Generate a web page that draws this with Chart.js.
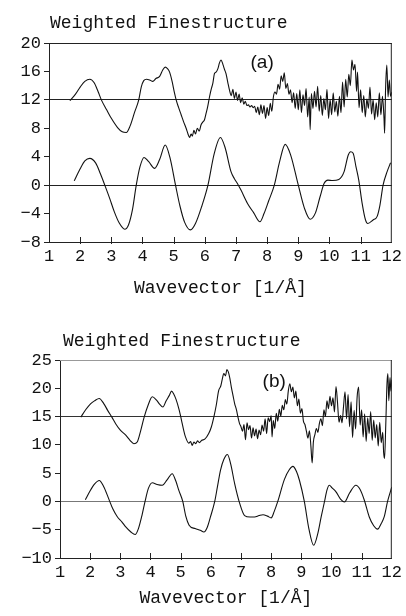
<!DOCTYPE html>
<html>
<head>
<meta charset="utf-8">
<script src="https://cdn.jsdelivr.net/npm/chart.js@4.4.1/dist/chart.umd.min.js"></script>
<style>
  body { margin: 0; background: #fff; }
  .panel { position: relative; width: 406px; height: 308px; }
  canvas { display: block; }
</style>
</head>
<body>
<div class="panel"><canvas id="chart-a" width="406" height="308"></canvas></div>
<div class="panel"><canvas id="chart-b" width="406" height="308"></canvas></div>
<script>
// ---- panel (a) ----
const aUpperK = [1.67,1.85,2.0,2.15,2.31,2.45,2.58,2.68,2.85,3.0,3.2,3.35,3.48,3.6,3.75,3.88,3.96,4.04,4.13,4.23,4.33,4.43,4.55,4.65,4.73,4.8,4.87,4.95,5.03,5.08,5.16,5.24,5.32,5.40,5.46,5.51,5.56,5.6,5.65,5.7,5.76,5.82,5.88,5.94,5.99,6.04,6.09,6.15,6.2,6.26,6.31,6.36,6.42,6.47,6.52,6.58,6.63,6.68,6.74,6.79,
  6.85,6.90,6.95,7.00,7.05,7.10,7.15,7.20,7.25,7.30,7.35,7.40,7.45,7.50,7.55,7.60,7.65,7.70,7.75,7.80,7.85,7.90,7.95,8.00,8.05,8.10,8.15,8.20,8.25,8.30,8.35,8.40,8.45,8.50,8.55,8.60,8.65,8.70,8.75,8.80,8.85,8.90,8.95,9.00,9.05,9.10,9.15,9.20,9.25,9.30,9.35,9.38,9.42,9.47,9.52,9.57,9.62,9.67,9.72,9.77,9.82,9.87,9.92,9.97,10.02,10.07,10.12,10.17,10.22,10.27,10.32,10.37,10.42,10.47,10.52,10.57,10.62,10.67,10.72,10.77,10.82,10.87,10.90,10.95,11.00,11.05,11.10,11.15,11.20,11.25,11.30,11.35,11.40,11.45,11.50,11.55,11.60,11.65,11.70,11.75,11.77,11.80,11.84,11.88,11.92,11.96,12.00];
const aUpperV = [11.9,12.8,13.8,14.6,14.9,14.4,13.1,12.0,10.6,9.4,8.1,7.5,7.4,8.3,10.3,12.0,13.8,14.7,14.9,14.8,14.6,15.0,15.3,16.2,16.6,16.4,15.9,14.6,12.9,12.0,10.9,9.9,8.9,8.0,7.2,6.7,7.2,6.9,7.7,7.2,8.0,7.6,8.5,8.9,9.2,10.1,11.0,12.4,13.4,14.4,15.7,15.9,16.4,17.2,17.6,17.0,16.3,15.7,14.4,13.4,
  12.6,13.5,12.2,13.1,11.9,12.8,11.6,12.3,11.4,11.8,11.2,11.3,11.0,11.2,10.9,11.1,10.2,11.0,9.9,11.3,10.1,11.2,9.4,10.9,9.8,11.5,10.4,12.4,13.1,12.8,14.2,13.5,15.4,14.6,15.8,13.6,14.3,12.8,13.4,11.6,13.0,10.8,12.9,10.6,13.4,10.2,12.7,11.2,13.6,9.6,12.4,7.8,12.9,10.8,13.2,11.0,13.9,10.4,12.6,9.8,12.2,10.6,13.5,9.4,12.0,9.9,13.0,10.3,11.8,9.7,12.5,10.2,14.5,11.0,14.9,12.4,15.6,14.0,17.6,16.2,17.0,13.2,15.9,10.9,13.4,10.2,12.6,9.6,12.1,10.8,13.8,10.0,12.0,9.2,11.6,9.6,13.0,9.9,12.5,9.4,7.3,13.5,16.9,12.4,14.8,12.5,13.1];

const aLowerK = [1.81,2.0,2.15,2.31,2.5,2.65,2.79,2.95,3.1,3.25,3.43,3.55,3.68,3.80,3.92,4.05,4.2,4.39,4.55,4.73,4.88,5.06,5.2,5.35,5.54,5.7,5.9,6.1,6.3,6.5,6.65,6.84,6.95,7.05,7.16,7.37,7.57,7.77,7.9,8.05,8.23,8.4,8.58,8.75,9.0,9.2,9.38,9.55,9.7,9.83,9.95,10.1,10.3,10.47,10.6,10.68,10.76,10.85,10.94,11.05,11.15,11.23,11.4,11.53,11.62,11.72,11.85,11.96];
const aLowerV = [0.6,2.3,3.4,3.77,3.1,1.6,0.0,-1.9,-3.8,-5.3,-6.2,-5.6,-3.4,0.0,2.6,3.9,3.3,2.36,3.6,5.64,3.9,0.0,-2.9,-5.2,-6.3,-5.4,-3.0,0.0,4.4,6.7,5.3,1.9,0.9,0.2,-0.7,-2.57,-3.9,-5.15,-4.0,-2.2,0.0,3.3,5.74,4.3,0.0,-3.3,-4.8,-3.9,-1.6,0.25,0.7,0.65,0.8,1.9,4.2,4.7,4.5,2.6,0.7,-2.6,-4.8,-5.4,-4.9,-4.4,-2.8,0.0,1.9,3.15];

const aBaselines = [12, 0];

// ---- panel (b) ----
const bUpperK = [1.69,1.85,2.02,2.15,2.30,2.45,2.58,2.72,2.85,3.0,3.18,3.32,3.45,3.56,3.68,3.79,3.92,4.06,4.2,4.3,4.41,4.52,4.62,4.70,4.77,4.85,4.95,5.03,5.1,5.16,5.27,5.33,5.38,5.44,5.5,5.56,5.62,5.7,5.8,5.93,6.02,6.10,6.18,6.26,6.33,6.38,6.43,6.49,6.53,6.58,6.63,6.68,6.74,6.79,6.85,6.90,
  6.95,7.00,7.05,7.10,7.15,7.20,7.25,7.30,7.35,7.40,7.45,7.50,7.55,7.60,7.65,7.70,7.75,7.80,7.85,7.90,7.95,8.00,8.03,8.07,8.12,8.17,8.22,8.27,8.32,8.37,8.42,8.47,8.52,8.57,8.62,8.67,8.72,8.77,8.82,8.87,8.92,8.97,9.02,9.07,9.12,9.17,9.22,9.27,9.32,9.36,9.40,9.45,9.50,9.55,9.60,9.65,9.70,9.75,9.80,9.85,9.90,9.95,10.00,10.05,10.10,10.15,10.20,10.25,10.30,10.35,10.40,10.45,10.50,10.55,10.60,10.65,10.70,10.75,10.80,10.85,10.90,10.95,11.00,11.05,11.10,11.15,11.20,11.25,11.30,11.35,11.40,11.45,11.50,11.55,11.60,11.65,11.70,11.73,11.76,11.80,11.84,11.87,11.90,11.94,11.97,12.00];
const bUpperV = [14.9,16.2,17.3,17.8,18.2,17.3,16.1,14.9,13.7,12.6,11.7,10.8,10.2,10.5,12.6,14.9,17.0,18.5,17.9,17.2,16.7,17.8,18.7,19.5,19.0,18.0,16.2,14.3,12.6,11.4,10.3,10.6,9.9,10.5,10.2,10.7,10.4,10.8,11.0,12.0,13.2,14.9,17.0,19.6,20.4,21.6,22.6,22.2,23.3,22.9,21.8,20.2,18.6,17.3,16.2,14.9,
  13.8,13.2,12.4,13.6,10.9,13.9,12.7,13.4,11.2,13.0,11.6,12.8,11.1,12.6,11.8,13.5,12.4,14.6,12.0,14.8,14.1,15.2,11.4,14.3,12.9,15.6,14.2,16.3,15.1,17.0,16.2,18.0,17.2,19.6,20.8,19.4,20.2,18.3,19.5,16.9,18.1,15.6,16.4,14.2,13.6,12.4,11.2,12.5,9.6,6.8,10.5,11.8,12.9,12.2,13.8,14.6,13.4,16.2,15.0,17.8,16.4,18.6,16.9,18.3,15.8,20.3,17.5,14.0,15.2,13.9,16.8,19.4,14.6,18.9,13.2,17.6,11.3,16.1,12.8,18.4,20.2,13.5,16.2,11.4,15.5,10.6,14.8,12.0,15.9,10.8,14.4,11.2,13.6,9.8,14.0,10.4,12.2,8.6,7.6,13.5,20.8,22.6,17.8,21.9,19.5,21.5];

const bLowerK = [1.84,2.0,2.15,2.30,2.45,2.62,2.75,2.9,3.05,3.18,3.35,3.49,3.6,3.72,3.82,3.93,4.06,4.22,4.39,4.55,4.72,4.84,4.94,5.07,5.17,5.28,5.48,5.65,5.77,5.88,5.99,6.13,6.22,6.32,6.43,6.55,6.66,6.79,6.96,7.12,7.3,7.45,7.6,7.73,7.88,8.0,8.1,8.22,8.44,8.6,8.72,8.84,8.94,9.1,9.25,9.41,9.55,9.66,9.77,9.85,9.93,10.02,10.15,10.3,10.43,10.6,10.81,10.95,11.09,11.25,11.4,11.53,11.65,11.75,11.86,12.0];
const bLowerV = [0.3,1.9,3.1,3.7,2.6,0.4,-1.3,-2.7,-3.6,-4.5,-5.4,-5.85,-4.8,-2.4,0.0,2.3,3.3,3.0,2.85,3.8,4.9,3.6,1.95,0.0,-2.6,-4.2,-4.8,-5.1,-5.4,-4.6,-2.7,0.0,2.6,5.5,7.4,8.3,6.6,3.15,-0.4,-2.5,-2.75,-2.75,-2.5,-2.35,-2.6,-2.9,-1.8,0.0,3.9,5.6,6.2,5.3,3.7,0.0,-4.8,-7.75,-5.6,-2.7,0.0,2.0,2.85,2.4,1.7,0.4,-0.1,1.5,2.85,2.1,0.2,-2.7,-4.3,-4.9,-3.9,-2.7,0.0,2.55];

const bBaselines = [15, 0];

const xTicks = [1,2,3,4,5,6,7,8,9,10,11,12];
const titleText = "Weighted Finestructure";
const xTitle = "Wavevector [1/\u00C5]";

const monoFont = "'Liberation Mono', 'DejaVu Sans Mono', monospace";

function pts(k, v) {
    return k.map((x, i) => ({x: x, y: v[i]}));
}

// frame, inner ticks, heading and panel letter
const framePlugin = {
    id: 'frame',
    afterDraw(chart, args, o) {
        const ctx = chart.ctx;
        const a = chart.chartArea;
        const xs = chart.scales.x, ys = chart.scales.y;
        ctx.save();
        ctx.strokeStyle = o.topColor;
        ctx.lineWidth = 1;
        ctx.beginPath();
        ctx.moveTo(a.left, a.top + 0.5);
        ctx.lineTo(a.right, a.top + 0.5);
        ctx.stroke();
        ctx.strokeStyle = '#222';
        ctx.beginPath();
        ctx.moveTo(a.right - 0.5, a.top);
        ctx.lineTo(a.right - 0.5, a.bottom);
        ctx.stroke();
        // x ticks pointing inward
        ctx.beginPath();
        xTicks.forEach(t => {
            if (t === xs.min || t === xs.max) return;
            const px = Math.round(xs.getPixelForValue(t)) + 0.5;
            ctx.moveTo(px, a.bottom + 2);
            ctx.lineTo(px, a.bottom - 5);
        });
        ctx.stroke();
        // heading
        ctx.fillStyle = '#111';
        ctx.font = "18px " + monoFont;
        ctx.textAlign = 'left';
        ctx.textBaseline = 'alphabetic';
        ctx.fillText(titleText, a.left + o.titleDx, a.top - o.titleDy);
        // panel letter
        ctx.font = "19px 'Liberation Sans', Arial, sans-serif";
        ctx.textAlign = 'center';
        ctx.textBaseline = 'middle';
        ctx.fillText(o.letter, xs.getPixelForValue(o.letterAt[0]), ys.getPixelForValue(o.letterAt[1]));
        ctx.restore();
    }
};

function makeChart(id, upper, lower, yMin, yMax, yStep, baselines, lay) {
    const ctx = document.getElementById(id).getContext('2d');
    return new Chart(ctx, {
        type: 'line',
        data: {
            datasets: [
                { data: upper, borderColor: '#111', borderWidth: 1.1, pointRadius: 0, cubicInterpolationMode: 'monotone', fill: false },
                { data: lower, borderColor: '#111', borderWidth: 1.1, pointRadius: 0, cubicInterpolationMode: 'monotone', fill: false },
            ]
        },
        options: {
            responsive: false,
            animation: false,
            events: [],
            layout: { padding: { top: lay.top, right: 13, left: 0, bottom: 0 } },
            plugins: {
                legend: { display: false },
                tooltip: { enabled: false },
                frame: lay.frame,
            },
            scales: {
                x: {
                    type: 'linear',
                    min: 1, max: 12,
                    afterFit: s => { s.height = lay.xHeight; },
                    afterBuildTicks: s => { s.ticks = xTicks.map(v => ({value: v})); },
                    border: { display: true, color: '#222', width: 1 },
                    grid: { drawOnChartArea: false, drawTicks: false },
                    ticks: { color: '#111', padding: 4, maxRotation: 0, autoSkip: false, font: { family: monoFont, size: 17 } },
                    title: { display: true, text: xTitle, color: '#111', font: { family: monoFont, size: 18 }, padding: { top: 0, bottom: lay.titlePad } }
                },
                y: {
                    min: yMin, max: yMax,
                    afterFit: s => { s.width = lay.yWidth; },
                    border: { display: true, color: '#222', width: 1 },
                    grid: {
                        color: c => baselines.indexOf(c.tick.value) >= 0 ? lay.baseColor(c.tick.value) : 'rgba(0,0,0,0)',
                        tickColor: '#222',
                        tickLength: 5,
                        lineWidth: 1
                    },
                    ticks: {
                        stepSize: yStep,
                        color: '#111',
                        padding: 3,
                        font: { family: monoFont, size: 17 },
                        callback: v => String(v).replace('-', '\u2212')
                    }
                }
            }
        },
        plugins: [framePlugin]
    });
}

makeChart('chart-a', pts(aUpperK, aUpperV), pts(aLowerK, aLowerV), -8, 20, 4, aBaselines, {
    top: 43, xHeight: 66, yWidth: 49, titlePad: 9,
    baseColor: v => '#222',
    frame: { letter: '(a)', letterAt: [7.84, 17.2], titleDx: 1, titleDy: 15, topColor: '#222' }
});
makeChart('chart-b', pts(bUpperK, bUpperV), pts(bLowerK, bLowerV), -10, 25, 5, bBaselines, {
    top: 52, xHeight: 58, yWidth: 60, titlePad: 7,
    baseColor: v => v === 0 ? '#777' : '#333',
    frame: { letter: '(b)', letterAt: [8.1, 21.2], titleDx: 3, titleDy: 14, topColor: '#999' }
});
</script>
</body>
</html>
